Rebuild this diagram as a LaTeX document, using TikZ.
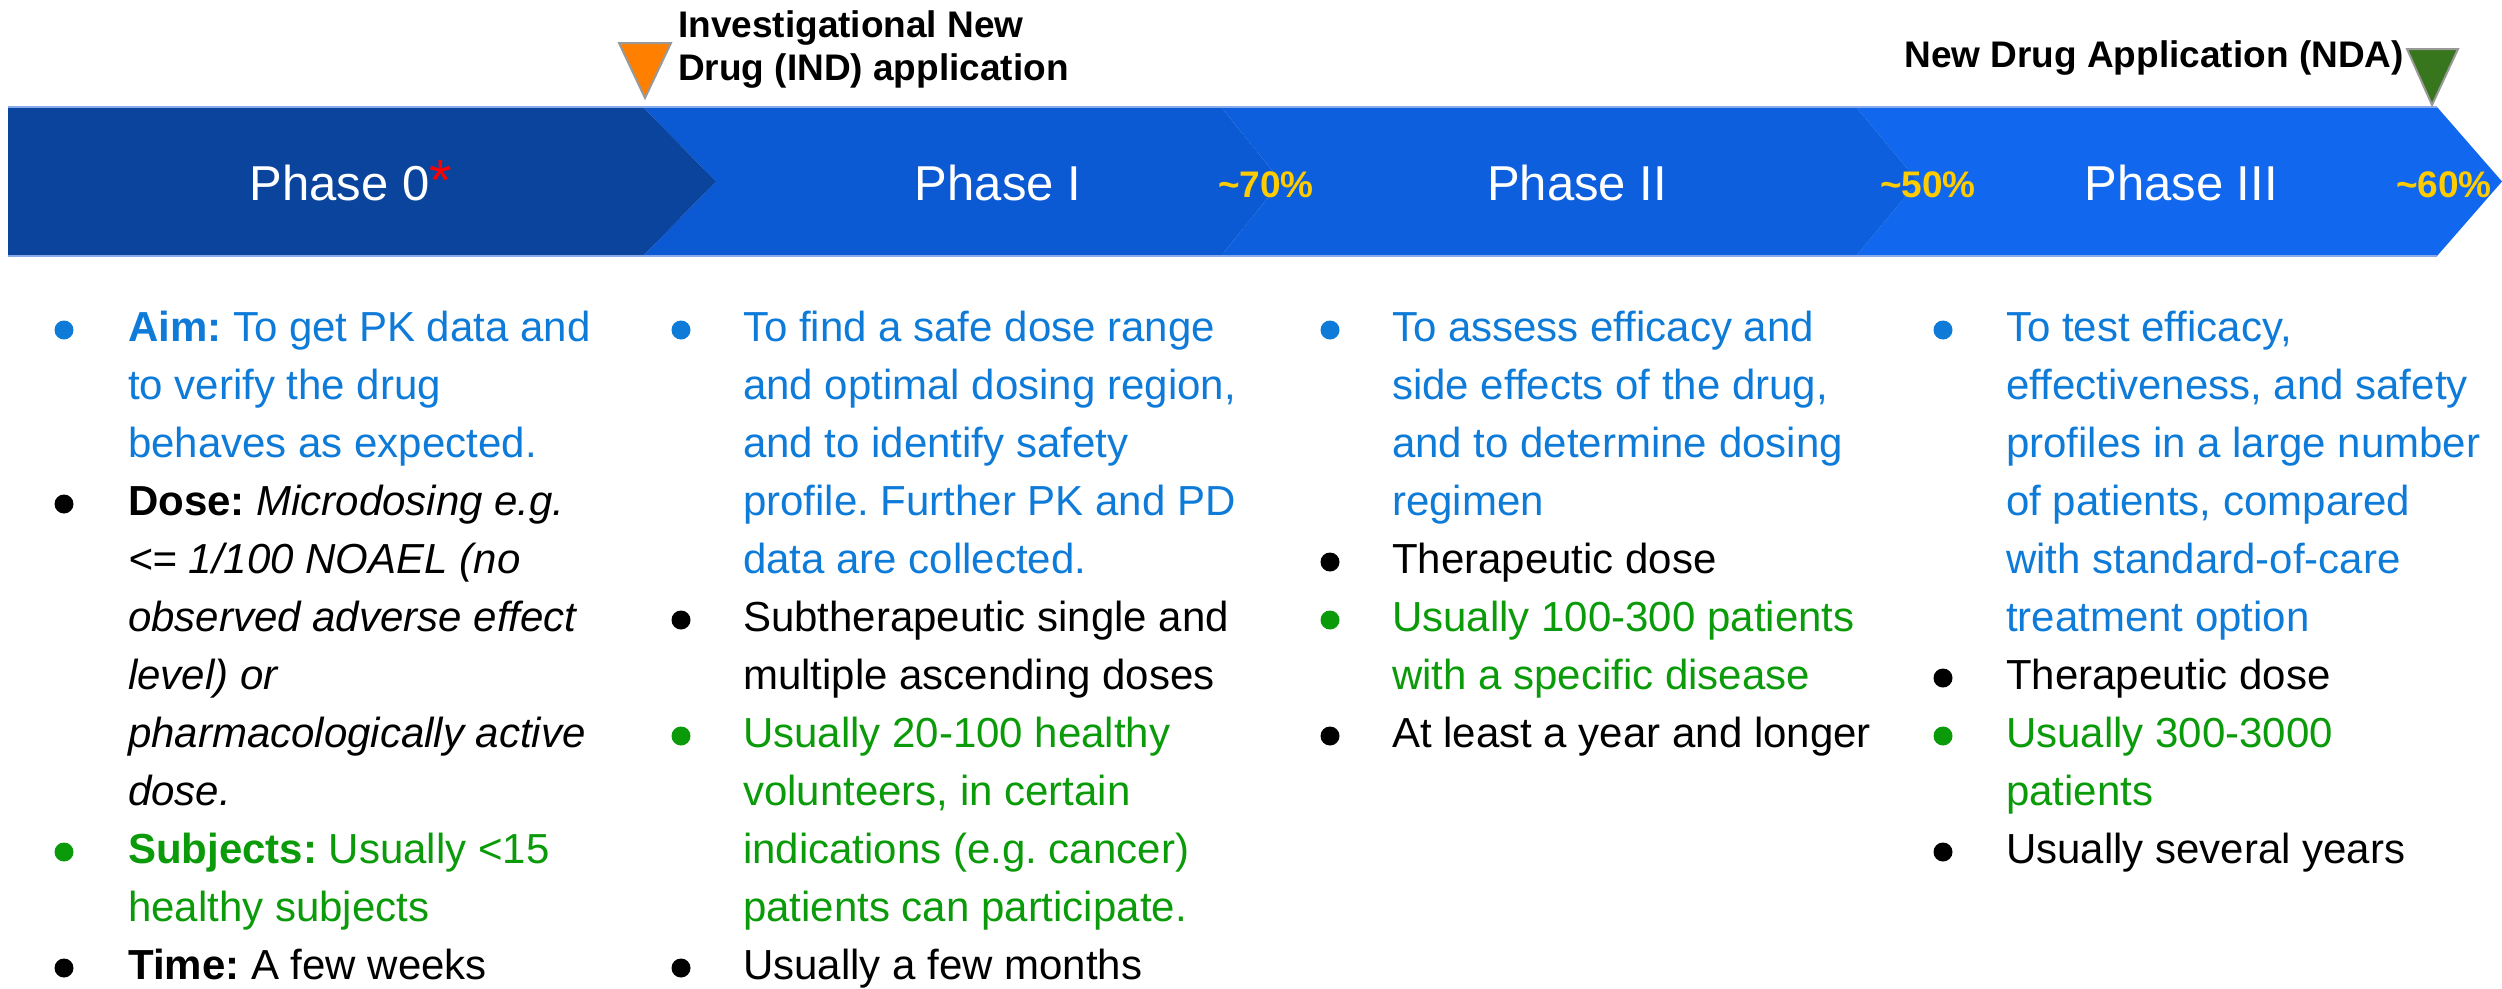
\documentclass[tikz,border=0pt]{standalone}
\usepackage{fontspec}
\setmainfont{Liberation Sans}
\frenchspacing
\definecolor{pzero}{HTML}{0A449C}
\definecolor{pone}{HTML}{0C59D4}
\definecolor{ptwo}{HTML}{0D5FDD}
\definecolor{pthree}{HTML}{1167ED}
\definecolor{edgeline}{HTML}{86AAEA}
\definecolor{pctyellow}{HTML}{FFCC00}
\definecolor{txtblue}{HTML}{0E7BD8}
\definecolor{txtgreen}{HTML}{0A9A0A}
\definecolor{mkorange}{HTML}{FF8000}
\definecolor{mkgreen}{HTML}{38761D}
\definecolor{mkedge}{HTML}{999999}
\tikzset{
  body/.style={anchor=base west, inner sep=0pt, font=\fontsize{42}{58}\selectfont},
  bul/.style={circle, inner sep=0pt, minimum size=19pt},
  phase/.style={anchor=base, inner sep=0pt, text=white, font=\fontsize{49}{58}\selectfont},
  pct/.style={anchor=base, inner sep=0pt, text=pctyellow, font=\fontsize{37}{44}\selectfont\bfseries},
  milestone/.style={line width=2pt, draw=mkedge, line join=miter},
  mslabel/.style={inner sep=0pt, font=\fontsize{37}{44}\selectfont\bfseries},
}
\newcommand\bline[5]{\node[body,text=#4] (#1) at (#2,{341+58*(#3-1)}) {#5};}
\newcommand\bdot[4]{\node[bul,fill=#4] (#1) at (#2,{330+58*(#3-1)}) {};}
\begin{document}
\begin{tikzpicture}[x=1pt,y=-1pt]
\useasboundingbox (0,0) rectangle (2502,988);
% banner chevrons (right to left so each tip lies on top)
\fill[pthree] (1856,107) -- (2437,107) -- (2502,181.5) -- (2437,256) -- (1856,256) -- (1918,181.5) -- cycle;
\fill[ptwo] (1221,107) -- (1856,107) -- (1918,181.5) -- (1856,256) -- (1221,256) -- (1281,181.5) -- cycle;
\fill[pone] (643,107) -- (1221,107) -- (1281,181.5) -- (1221,256) -- (643,256) -- (716,181.5) -- cycle;
\fill[pzero] (8,107) -- (643,107) -- (716,181.5) -- (643,256) -- (8,256) -- cycle;
\draw[edgeline, line width=1.2pt] (8,107) -- (2437,107);
\draw[edgeline, line width=1.2pt] (8,256) -- (2437,256);
% phase titles
\node[phase] (ph0) at (351,200) {Phase 0\textcolor{red}{\fontsize{58}{58}\selectfont*}};
\node[phase] (ph1) at (998,200) {Phase I};
\node[phase] (ph2) at (1577,200) {Phase II};
\node[phase] (ph3) at (2181,200) {Phase III};
% success rates
\node[pct] (r70) at (1266,197) {\textasciitilde 70\%};
\node[pct] (r50) at (1928,197) {\textasciitilde 50\%};
\node[pct] (r60) at (2444,197) {\textasciitilde 60\%};
% milestones
\draw[milestone, fill=mkorange] (619,43) -- (671,43) -- (645,98) -- cycle;
\node[mslabel, anchor=base west] (ind1) at (678,37) {Investigational New};
\node[mslabel, anchor=base west] (ind2) at (678,80) {Drug (IND) application};
\draw[milestone, fill=mkgreen] (2407,49) -- (2458,49) -- (2432,105) -- cycle;
\node[mslabel, anchor=base east] (nda) at (2404,67) {New Drug Application (NDA)};
% column 1: Phase 0
\bdot{a1}{64}{1}{txtblue}
\bline{a1l1}{128}{1}{txtblue}{\textbf{Aim:} To get PK data and}
\bline{a1l2}{128}{2}{txtblue}{to verify the drug}
\bline{a1l3}{128}{3}{txtblue}{behaves as expected.}
\bdot{a2}{64}{4}{black}
\bline{a2l1}{128}{4}{black}{\textbf{Dose:} \textit{Microdosing e.g.}}
\bline{a2l2}{128}{5}{black}{\textit{<= 1/100 NOAEL (no}}
\bline{a2l3}{128}{6}{black}{\textit{observed adverse effect}}
\bline{a2l4}{128}{7}{black}{\textit{level) or}}
\bline{a2l5}{128}{8}{black}{\textit{pharmacologically active}}
\bline{a2l6}{128}{9}{black}{\textit{dose.}}
\bdot{a3}{64}{10}{txtgreen}
\bline{a3l1}{128}{10}{txtgreen}{\textbf{Subjects:} Usually <15}
\bline{a3l2}{128}{11}{txtgreen}{healthy subjects}
\bdot{a4}{64}{12}{black}
\bline{a4l1}{128}{12}{black}{\textbf{Time:} A few weeks}
% column 2: Phase I
\bdot{b1}{681}{1}{txtblue}
\bline{b1l1}{743}{1}{txtblue}{To find a safe dose range}
\bline{b1l2}{743}{2}{txtblue}{and optimal dosing region,}
\bline{b1l3}{743}{3}{txtblue}{and to identify safety}
\bline{b1l4}{743}{4}{txtblue}{profile. Further PK and PD}
\bline{b1l5}{743}{5}{txtblue}{data are collected.}
\bdot{b2}{681}{6}{black}
\bline{b2l1}{743}{6}{black}{Subtherapeutic single and}
\bline{b2l2}{743}{7}{black}{multiple ascending doses}
\bdot{b3}{681}{8}{txtgreen}
\bline{b3l1}{743}{8}{txtgreen}{Usually 20-100 healthy}
\bline{b3l2}{743}{9}{txtgreen}{volunteers, in certain}
\bline{b3l3}{743}{10}{txtgreen}{indications (e.g. cancer)}
\bline{b3l4}{743}{11}{txtgreen}{patients can participate.}
\bdot{b4}{681}{12}{black}
\bline{b4l1}{743}{12}{black}{Usually a few months}
% column 3: Phase II
\bdot{c1}{1330}{1}{txtblue}
\bline{c1l1}{1392}{1}{txtblue}{To assess efficacy and}
\bline{c1l2}{1392}{2}{txtblue}{side effects of the drug,}
\bline{c1l3}{1392}{3}{txtblue}{and to determine dosing}
\bline{c1l4}{1392}{4}{txtblue}{regimen}
\bdot{c2}{1330}{5}{black}
\bline{c2l1}{1392}{5}{black}{Therapeutic dose}
\bdot{c3}{1330}{6}{txtgreen}
\bline{c3l1}{1392}{6}{txtgreen}{Usually 100-300 patients}
\bline{c3l2}{1392}{7}{txtgreen}{with a specific disease}
\bdot{c4}{1330}{8}{black}
\bline{c4l1}{1392}{8}{black}{At least a year and longer}
% column 4: Phase III
\bdot{d1}{1943}{1}{txtblue}
\bline{d1l1}{2006}{1}{txtblue}{To test efficacy,}
\bline{d1l2}{2006}{2}{txtblue}{effectiveness, and safety}
\bline{d1l3}{2006}{3}{txtblue}{profiles in a large number}
\bline{d1l4}{2006}{4}{txtblue}{of patients, compared}
\bline{d1l5}{2006}{5}{txtblue}{with standard-of-care}
\bline{d1l6}{2006}{6}{txtblue}{treatment option}
\bdot{d2}{1943}{7}{black}
\bline{d2l1}{2006}{7}{black}{Therapeutic dose}
\bdot{d3}{1943}{8}{txtgreen}
\bline{d3l1}{2006}{8}{txtgreen}{Usually 300-3000}
\bline{d3l2}{2006}{9}{txtgreen}{patients}
\bdot{d4}{1943}{10}{black}
\bline{d4l1}{2006}{10}{black}{Usually several years}
\end{tikzpicture}
\end{document}
